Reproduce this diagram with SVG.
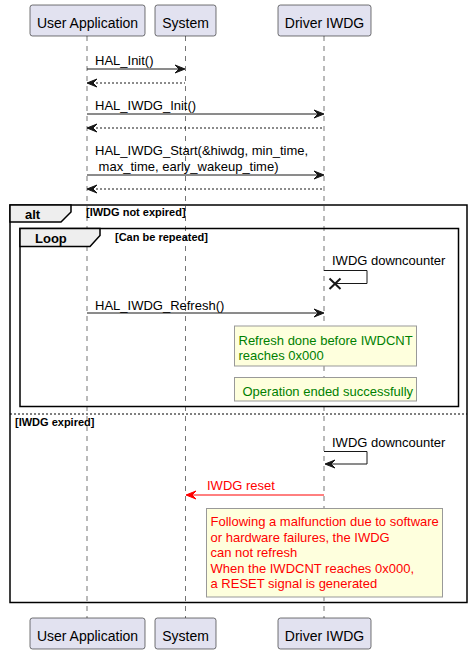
<svg xmlns="http://www.w3.org/2000/svg" width="473" height="655" viewBox="0 0 473 655">
<style>
text{font-family:"Liberation Sans",Arial,sans-serif;}
.pbox{fill:#E2E2F0;stroke:#181818;stroke-width:0.6;}
.ptxt{font-size:14px;fill:#000;text-anchor:middle;}
.life{stroke:#181818;stroke-width:0.6;stroke-dasharray:5,5;fill:none;}
.msg{stroke:#181818;stroke-width:1;fill:none;}
.ret{stroke:#181818;stroke-width:1;fill:none;stroke-dasharray:2,2;}
.head{fill:#181818;stroke:#181818;stroke-width:1;}
.mt{font-size:13px;fill:#000;}
.frame{fill:none;stroke:#000;stroke-width:1.5;}
.tab{fill:#EEEEEE;stroke:#000;stroke-width:1.5;}
.ft{font-size:13px;font-weight:bold;fill:#000;}
.cond{font-size:11px;font-weight:bold;fill:#000;}
.note{fill:#FEFFDD;stroke:#999999;stroke-width:1;}
.green{font-size:13px;fill:#008000;}
.red{font-size:13px;fill:#FF0000;}
</style>
<g id="lifelines">
<line class="life" x1="87" y1="36" x2="87" y2="618"/>
<line class="life" x1="185.5" y1="36" x2="185.5" y2="618"/>
<line class="life" x1="324" y1="36" x2="324" y2="618"/>
</g>
<g id="p-user">
<rect class="pbox" x="30" y="5" width="115" height="31" rx="2.5"/>
<text class="ptxt" x="87.5" y="27.5">User Application</text>
<rect class="pbox" x="30" y="618" width="115" height="31" rx="2.5"/>
<text class="ptxt" x="87.5" y="640.5">User Application</text>
</g>
<g id="p-system">
<rect class="pbox" x="155" y="5" width="61" height="31" rx="2.5"/>
<text class="ptxt" x="185.5" y="27.5">System</text>
<rect class="pbox" x="155" y="618" width="61" height="31" rx="2.5"/>
<text class="ptxt" x="185.5" y="640.5">System</text>
</g>
<g id="p-driver">
<rect class="pbox" x="278" y="5" width="93" height="31" rx="2.5"/>
<text class="ptxt" x="324.5" y="27.5">Driver IWDG</text>
<rect class="pbox" x="278" y="618" width="93" height="31" rx="2.5"/>
<text class="ptxt" x="324.5" y="640.5">Driver IWDG</text>
</g>
<g id="frame-alt">
<rect class="frame" x="10" y="205" width="457" height="397.5"/>
<path class="tab" d="M10,205 L71,205 L71,212 L61,222 L10,222 Z"/>
<text class="ft" x="25" y="219">alt</text>
<text class="cond" x="86" y="215.5">[IWDG not expired]</text>
<line x1="10" y1="414" x2="467" y2="414" stroke="#000" stroke-width="1" stroke-dasharray="2,2"/>
<text class="cond" x="15" y="426">[IWDG expired]</text>
</g>
<g id="frame-loop">
<rect class="frame" x="20" y="228.5" width="438.5" height="178"/>
<path class="tab" d="M20,228.5 L100,228.5 L100,235.5 L90,246.5 L20,246.5 Z"/>
<text class="ft" x="35" y="243">Loop</text>
<text class="cond" x="115" y="240.5">[Can be repeated]</text>
</g>
<g id="connectors">
<line class="msg" x1="87" y1="69" x2="184" y2="69"/>
<polygon class="head" points="175,65 185,69 175,73 179,69"/>
<text class="mt" x="95" y="65">HAL_Init()</text>
<line class="ret" x1="88" y1="83" x2="185" y2="83"/>
<polygon class="head" points="97,79 87,83 97,87 93,83"/>
<line class="msg" x1="87" y1="114" x2="323" y2="114"/>
<polygon class="head" points="314,110 324,114 314,118 318,114"/>
<text class="mt" x="95" y="109.5">HAL_IWDG_Init()</text>
<line class="ret" x1="88" y1="128" x2="324" y2="128"/>
<polygon class="head" points="97,124 87,128 97,132 93,128"/>
<line class="msg" x1="87" y1="175" x2="323" y2="175"/>
<polygon class="head" points="314,171 324,175 314,179 318,175"/>
<text class="mt" x="95" y="155">HAL_IWDG_Start(&amp;hiwdg, min_time,</text>
<text class="mt" x="98.6" y="170.5">max_time, early_wakeup_time)</text>
<line class="ret" x1="88" y1="189" x2="324" y2="189"/>
<polygon class="head" points="97,185 87,189 97,193 93,189"/>
<polyline class="msg" points="324,270.5 367,270.5 367,283.5 336,283.5"/>
<path d="M329.5,278.5 L340.5,289 M340.5,278.5 L329.5,289" stroke="#181818" stroke-width="2" fill="none"/>
<text class="mt" x="332" y="265">IWDG downcounter</text>
<line class="msg" x1="87" y1="313" x2="323" y2="313"/>
<polygon class="head" points="314,309 324,313 314,317 318,313"/>
<text class="mt" x="95" y="310">HAL_IWDG_Refresh()</text>
<polyline class="msg" points="324,451.5 367,451.5 367,464 326,464"/>
<polygon class="head" points="335,460 325,464 335,468 331,464"/>
<text class="mt" x="332" y="447">IWDG downcounter</text>
<line x1="187" y1="495" x2="324" y2="495" stroke="#FF0000" stroke-width="1"/>
<polygon points="196,491 186,495 196,499 192,495" fill="#FF0000" stroke="#FF0000" stroke-width="1"/>
<text class="red" x="207" y="490">IWDG reset</text>
</g>
<g id="note-refresh">
<rect class="note" x="234.5" y="326" width="182" height="40"/>
<text class="green" x="238.5" y="345">Refresh done before IWDCNT</text>
<text class="green" x="238.5" y="360">reaches 0x000</text>
</g>
<g id="note-success">
<rect class="note" x="234.5" y="377.5" width="182" height="23.5"/>
<text class="green" x="242.5" y="395.5">Operation ended successfully</text>
</g>
<g id="note-reset">
<rect class="note" x="206.5" y="508.5" width="236" height="88.5"/>
<text class="red" x="210.5" y="526">Following a malfunction due to software</text>
<text class="red" x="210.5" y="541.6">or hardware failures, the IWDG</text>
<text class="red" x="210.5" y="557.2">can not refresh</text>
<text class="red" x="210.5" y="572.8">When the IWDCNT reaches 0x000,</text>
<text class="red" x="210.5" y="588.4">a RESET signal is generated</text>
</g>
</svg>
